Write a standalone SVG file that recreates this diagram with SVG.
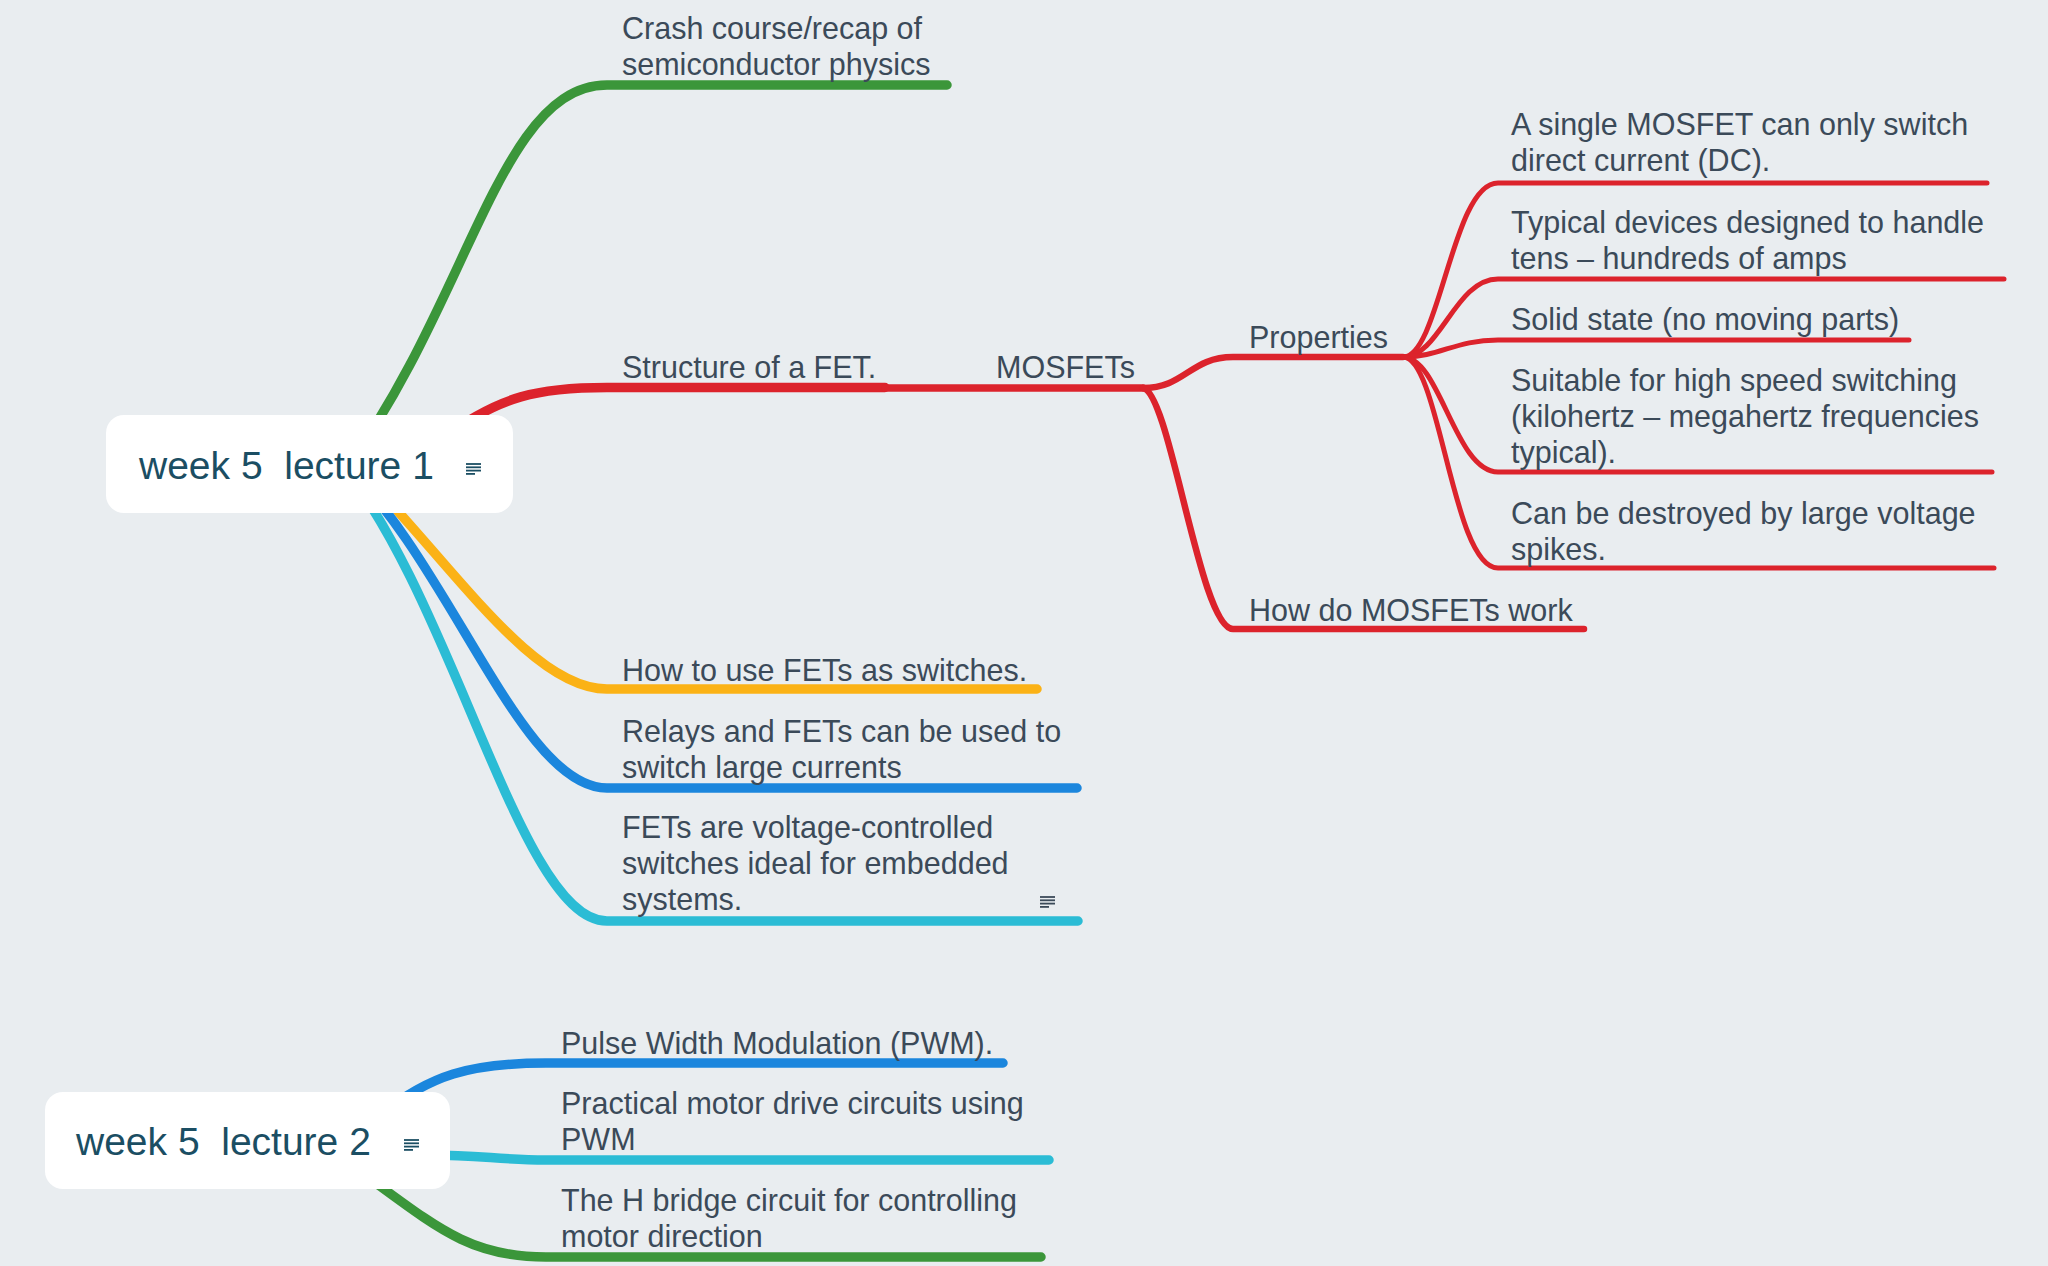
<svg xmlns="http://www.w3.org/2000/svg" width="2048" height="1266" viewBox="0 0 2048 1266">
<defs>
<style>
.bg{fill:#e9edf0}
.c{fill:none;stroke-linecap:round;stroke-linejoin:round}
.l1{stroke-width:9.5}
.l2{stroke-width:7.5}
.l3{stroke-width:6.5}
.l4{stroke-width:5}
.red{stroke:#dc232c}
.green{stroke:#3b963a}
.yellow{stroke:#fbb216}
.blue{stroke:#1b86dd}
.cyan{stroke:#2bbcd5}
.box{fill:#ffffff}
.nt{font-family:"Liberation Sans",Arial,Helvetica,sans-serif;font-size:39px;fill:#1b4e63}
.t{font-family:"Liberation Sans",Arial,Helvetica,sans-serif;font-size:30.5px;fill:#3b4a59}
.ic{stroke-width:1.8;stroke-linecap:butt}
</style>
</defs>
<rect class="bg" x="0" y="0" width="2048" height="1266"/>

<g id="connectors">
  <path class="c l1 green" d="M345,470 C470,300 500,85 607,85 L947,85"/>
  <path class="c l1 red" d="M440,440 C500,395 540,387.5 607,387.5 L885,387.5"/>
  <path class="c l2 red" d="M885,388 L1143,388"/>
  <path class="c l3 red" d="M1143,388 C1185,388 1190,357 1233,357 L1403,357"/>
  <path class="c l3 red" d="M1143,388 C1170,392 1200,629 1233,629 L1584,629"/>
  <path class="c l4 red" d="M1403,357 C1440,357 1452,183 1498,183 L1987,183"/>
  <path class="c l4 red" d="M1403,357 C1440,357 1455,279 1498,279 L2004,279"/>
  <path class="c l4 red" d="M1403,357 C1440,357 1455,340 1498,340 L1909,340"/>
  <path class="c l4 red" d="M1403,357 C1440,357 1455,472 1498,472 L1992,472"/>
  <path class="c l4 red" d="M1403,357 C1440,357 1452,568 1498,568 L1994,568"/>
  <path class="c l1 yellow" d="M350,460 C450,560 530,689 607,689 L1037,689"/>
  <path class="c l1 blue" d="M340,460 C450,560 520,788 607,788 L1077,788"/>
  <path class="c l1 cyan" d="M338,460 C455,600 520,921 607,921 L1078,921"/>
  <path class="c l1 blue" d="M380,1115 C430,1075 470,1063 546,1063 L1003,1063"/>
  <path class="c l1 cyan" d="M430,1155 C480,1155 500,1160 546,1160 L1049,1160"/>
  <path class="c l1 green" d="M330,1150 C430,1220 460,1257 546,1257 L1041,1257"/>
</g>

<g id="node-lecture1">
  <rect class="box" x="106" y="415" width="407" height="98" rx="18"/>
  <text class="nt" x="139" y="479" xml:space="preserve">week 5  lecture 1</text>
  <g stroke="#1b4e63" class="ic">
    <line x1="466" y1="464" x2="481" y2="464"/>
    <line x1="466" y1="467.3" x2="481" y2="467.3"/>
    <line x1="466" y1="470.6" x2="481" y2="470.6"/>
    <line x1="466" y1="473.9" x2="475" y2="473.9"/>
  </g>
</g>

<g id="node-crash">
  <text class="t" x="622" y="39">Crash course/recap of</text>
  <text class="t" x="622" y="75">semiconductor physics</text>
</g>
<g id="node-structure">
  <text class="t" x="622" y="378">Structure of a FET.</text>
</g>
<g id="node-mosfets">
  <text class="t" x="996" y="378">MOSFETs</text>
</g>
<g id="node-properties">
  <text class="t" x="1249" y="348">Properties</text>
</g>
<g id="node-prop1">
  <text class="t" x="1511" y="135">A single MOSFET can only switch</text>
  <text class="t" x="1511" y="171">direct current (DC).</text>
</g>
<g id="node-prop2">
  <text class="t" x="1511" y="233">Typical devices designed to handle</text>
  <text class="t" x="1511" y="269">tens – hundreds of amps</text>
</g>
<g id="node-prop3">
  <text class="t" x="1511" y="330">Solid state (no moving parts)</text>
</g>
<g id="node-prop4">
  <text class="t" x="1511" y="391">Suitable for high speed switching</text>
  <text class="t" x="1511" y="427">(kilohertz – megahertz frequencies</text>
  <text class="t" x="1511" y="463">typical).</text>
</g>
<g id="node-prop5">
  <text class="t" x="1511" y="524">Can be destroyed by large voltage</text>
  <text class="t" x="1511" y="560">spikes.</text>
</g>
<g id="node-howwork">
  <text class="t" x="1249" y="621">How do MOSFETs work</text>
</g>
<g id="node-howuse">
  <text class="t" x="622" y="681">How to use FETs as switches.</text>
</g>
<g id="node-relays">
  <text class="t" x="622" y="742">Relays and FETs can be used to</text>
  <text class="t" x="622" y="778">switch large currents</text>
</g>
<g id="node-voltage">
  <text class="t" x="622" y="838">FETs are voltage-controlled</text>
  <text class="t" x="622" y="874">switches ideal for embedded</text>
  <text class="t" x="622" y="910">systems.</text>
  <g stroke="#3b4a59" class="ic">
    <line x1="1040" y1="897" x2="1055" y2="897"/>
    <line x1="1040" y1="900.3" x2="1055" y2="900.3"/>
    <line x1="1040" y1="903.6" x2="1055" y2="903.6"/>
    <line x1="1040" y1="906.9" x2="1049" y2="906.9"/>
  </g>
</g>

<g id="node-lecture2">
  <rect class="box" x="45" y="1092" width="405" height="97" rx="18"/>
  <text class="nt" x="76" y="1155" xml:space="preserve">week 5  lecture 2</text>
  <g stroke="#1b4e63" class="ic">
    <line x1="404" y1="1140" x2="419" y2="1140"/>
    <line x1="404" y1="1143.3" x2="419" y2="1143.3"/>
    <line x1="404" y1="1146.6" x2="419" y2="1146.6"/>
    <line x1="404" y1="1149.9" x2="413" y2="1149.9"/>
  </g>
</g>
<g id="node-pwm">
  <text class="t" x="561" y="1054">Pulse Width Modulation (PWM).</text>
</g>
<g id="node-practical">
  <text class="t" x="561" y="1114">Practical motor drive circuits using</text>
  <text class="t" x="561" y="1150">PWM</text>
</g>
<g id="node-hbridge">
  <text class="t" x="561" y="1211">The H bridge circuit for controlling</text>
  <text class="t" x="561" y="1247">motor direction</text>
</g>
</svg>
